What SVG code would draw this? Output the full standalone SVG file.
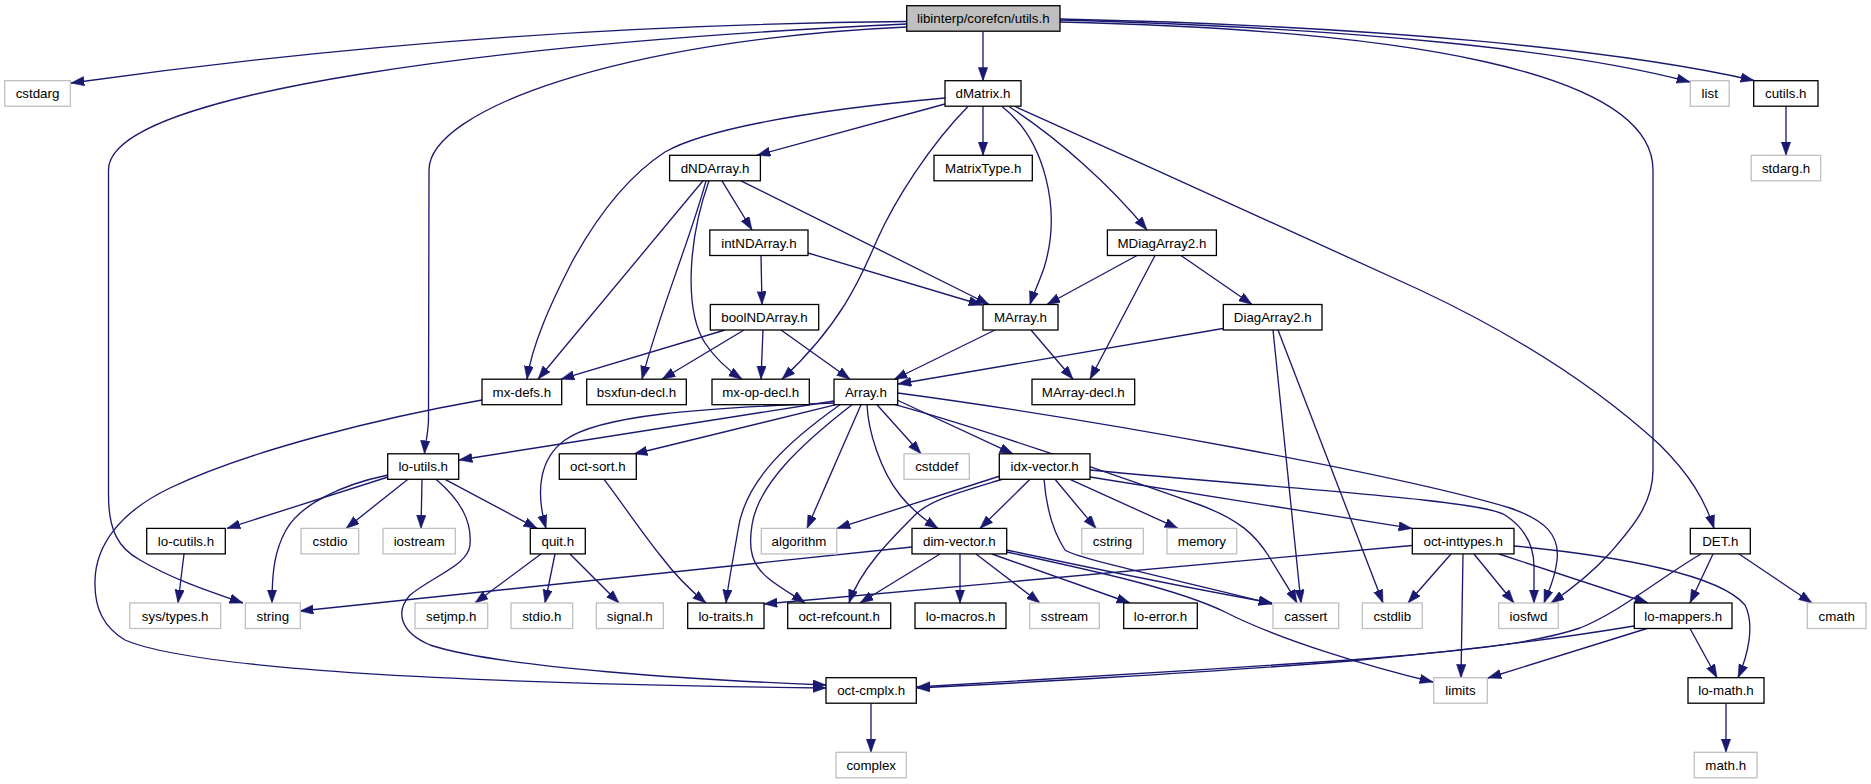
<svg xmlns="http://www.w3.org/2000/svg" width="1871" height="784" viewBox="0 0 1871 784">
<style>
.n rect{fill:#fff;stroke:#000;stroke-width:1.3}
.x rect{stroke:#bfbfbf}
.root rect{fill:#bfbfbf}
text{font-family:"Liberation Sans",Arial,Helvetica,sans-serif;font-size:13.33px;text-anchor:middle;fill:#000}
#edges path{fill:none;stroke:#191970;stroke-width:1.33;marker-end:url(#a)}
</style>
<defs>
<marker id="a" markerUnits="userSpaceOnUse" markerWidth="14" markerHeight="10" viewBox="0 0 14 10" refX="13.3" refY="4.7" orient="auto">
<path d="M0,0 L13.3,4.7 L0,9.4 z" fill="#191970" stroke="#191970" stroke-width="0.5"/>
</marker>
</defs>
<rect width="1871" height="784" fill="#fff"/>
<g id="edges">
<path d="M907,21.5 C650,24 380,40 71,83"/>
<path d="M907,24 C520,42 108.5,90 108.5,170 L108.5,495 C108.5,530 118,548 140,560 C170,578 205,590 243,603"/>
<path d="M907,27 C620,40 429,110 429,170 L428.5,420 C428,435 425,445 424.5,453.8"/>
<path d="M983,31.5 L983,80.7"/>
<path d="M1060,20 C1350,28 1570,50 1690,82"/>
<path d="M1060,19 C1380,26 1620,50 1754,80.5"/>
<path d="M1060,22 C1400,30 1653,70 1653,170 L1653,470 C1653,505 1630,530 1610,553 C1590,575 1570,590 1551,603"/>
<path d="M945,104 L757,155.3"/>
<path d="M945,98 C790,112 700,132 665,152 C625,178 595,220 572,262 C550,305 532,345 527,379.2"/>
<path d="M983,106.2 L983,155.3"/>
<path d="M968,106.5 C930,145 895,200 877,240 C860,280 840,325 782,379.2"/>
<path d="M1002,106.5 C1045,140 1062,210 1044,268 C1038,285 1033,295 1030,304.5"/>
<path d="M1009,106.5 C1060,140 1110,185 1147,230"/>
<path d="M1015,106.5 C1150,167 1300,235 1420,290 C1520,337 1600,390 1660,445 C1690,475 1705,500 1714,528.4"/>
<path d="M703,180.8 L538,379.2"/>
<path d="M706,180.8 C690,240 660,310 642,379.2"/>
<path d="M709,180.8 C688,240 684,310 705,343 C715,358 728,370 742,379.2"/>
<path d="M722,180.8 L752,230"/>
<path d="M741,180.8 L989,304.5"/>
<path d="M808,253 L982,305"/>
<path d="M761,255.5 L762,304.5"/>
<path d="M1137,255.5 L1047,304.5"/>
<path d="M1155,255.5 L1090,379.2"/>
<path d="M1181,255.5 L1252,304.5"/>
<path d="M725,330 L561,379.2"/>
<path d="M744,330 L662,379.2"/>
<path d="M763,330 L761,379.2"/>
<path d="M781,330 L850,379.2"/>
<path d="M995,330 L894,379.5"/>
<path d="M1031,330 L1073,379.2"/>
<path d="M1223,328.5 L898,384"/>
<path d="M1273,330 L1301,603"/>
<path d="M1278,330 L1383,603"/>
<path d="M482,400 C380,418 250,450 170,488 C120,512 96,545 95,580 C94,610 105,628 125,640 C200,672 500,684 826,688"/>
<path d="M388,477 L227,528.4"/>
<path d="M388,475 C340,485 300,505 286,530 C275,550 272,570 272,603"/>
<path d="M408,479.3 L346,528.4"/>
<path d="M422,479.3 L421,528.4"/>
<path d="M436,479.3 C460,500 472,520 470,545 C468,565 435,575 410,595 C395,612 400,632 430,645 C500,668 700,680 826,685"/>
<path d="M445,479.3 L537,528.4"/>
<path d="M834,401 L459,460"/>
<path d="M834,403 C700,408 600,415 565,440 C540,458 535,490 546,528.4"/>
<path d="M836,404.7 L634,454"/>
<path d="M840,404.7 C790,440 745,480 738,530 C733,560 728,585 726,603"/>
<path d="M852,404.7 C800,445 758,485 752,525 C748,550 752,565 768,578 C780,588 795,596 805,603"/>
<path d="M861,404.7 L807,528.4"/>
<path d="M867,404.7 C868,430 880,470 900,495 C912,510 925,520 938,528.4"/>
<path d="M877,404.7 L921,453.8"/>
<path d="M897,400 L1013,453.8"/>
<path d="M897.7,393 C1100,420 1400,475 1510,508 C1545,520 1560,535 1557,560 C1555,580 1548,592 1544,603"/>
<path d="M895,404.7 C980,428 1100,470 1200,505 C1240,520 1255,535 1268,555 C1280,575 1290,590 1297,603"/>
<path d="M604,479.3 C620,500 640,530 660,555 C675,575 690,590 706,603"/>
<path d="M1000,476 L837,528.4"/>
<path d="M1003,479 C960,492 930,500 915,515 C890,540 860,570 849,603"/>
<path d="M1030,479.3 L980,528.4"/>
<path d="M1044,479.3 C1046,505 1052,530 1065,550 C1080,560 1200,585 1272,604"/>
<path d="M1055,479.3 L1096,528.4"/>
<path d="M1070,479.3 L1178,528.4"/>
<path d="M1090,470 C1300,490 1480,500 1505,515 C1525,528 1535,545 1534,570 C1534,585 1534,595 1534,603"/>
<path d="M1090,477 L1412,528.4"/>
<path d="M912,547 L300,611"/>
<path d="M940,554 L860,603"/>
<path d="M960,554 L960,603"/>
<path d="M976,554 L1040,603"/>
<path d="M992,554 L1130,603"/>
<path d="M1006.7,550 C1100,570 1200,590 1272,603"/>
<path d="M1006.7,552 C1100,572 1180,590 1225,612 C1280,640 1370,667 1433,682"/>
<path d="M1412,545.5 L764,604"/>
<path d="M1451,554 L1408,603"/>
<path d="M1463,554 L1461,677.7"/>
<path d="M1474,554 L1514,603"/>
<path d="M1499,554 L1648,603"/>
<path d="M1514,546 C1620,556 1720,575 1745,605 C1755,625 1748,655 1738,677.7"/>
<path d="M1701,554 C1660,578 1620,612 1580,628 C1530,645 1450,652 1350,660 C1200,670 1000,683 917,687"/>
<path d="M1713,554 L1690,603"/>
<path d="M1739,554 L1812,603"/>
<path d="M1634,626 C1550,640 1450,652 1350,661 C1200,673 1000,684 917,688"/>
<path d="M1647,628.5 L1488,678"/>
<path d="M1690,628.5 L1717,677.7"/>
<path d="M1726,703.2 L1726,752.3"/>
<path d="M871,703.2 L871,752.3"/>
<path d="M541,554 L475,603"/>
<path d="M555,554 L545,603"/>
<path d="M570,554 L619,603"/>
<path d="M184,554 L178,603"/>
<path d="M1786,106.2 L1786,155.3"/>
</g>
<g id="n_utils" class="n root"><rect x="906.7" y="5.7" width="153.3" height="25.5"/><text x="983.3" y="23.2">libinterp/corefcn/utils.h</text></g>
<g id="n_cstdarg" class="n x"><rect x="4.7" y="80.7" width="65.7" height="25.5"/><text x="37.5" y="98.2">cstdarg</text></g>
<g id="n_dMatrix" class="n"><rect x="945" y="80.7" width="76" height="25.5"/><text x="983" y="98.2">dMatrix.h</text></g>
<g id="n_list" class="n x"><rect x="1690.3" y="80.7" width="38.9" height="25.5"/><text x="1709.7" y="98.2">list</text></g>
<g id="n_cutils" class="n"><rect x="1753.7" y="80.7" width="64.3" height="25.5"/><text x="1785.8" y="98.2">cutils.h</text></g>
<g id="n_dNDArray" class="n"><rect x="669.6" y="155.3" width="90.8" height="25.5"/><text x="715" y="172.8">dNDArray.h</text></g>
<g id="n_MatrixType" class="n"><rect x="934" y="155.3" width="98.3" height="25.5"/><text x="983.2" y="172.8">MatrixType.h</text></g>
<g id="n_stdarg" class="n x"><rect x="1751.2" y="155.3" width="69.5" height="25.5"/><text x="1786" y="172.8">stdarg.h</text></g>
<g id="n_intNDArray" class="n"><rect x="709.8" y="230" width="98.2" height="25.5"/><text x="758.9" y="247.5">intNDArray.h</text></g>
<g id="n_MDiagArray2" class="n"><rect x="1107.4" y="230" width="109" height="25.5"/><text x="1161.9" y="247.5">MDiagArray2.h</text></g>
<g id="n_boolNDArray" class="n"><rect x="710.3" y="304.5" width="108.4" height="25.5"/><text x="764.5" y="322">boolNDArray.h</text></g>
<g id="n_MArray" class="n"><rect x="983" y="304.5" width="75" height="25.5"/><text x="1020.5" y="322">MArray.h</text></g>
<g id="n_DiagArray2" class="n"><rect x="1223.3" y="304.5" width="98.7" height="25.5"/><text x="1272.7" y="322">DiagArray2.h</text></g>
<g id="n_mxdefs" class="n"><rect x="482" y="379.2" width="79.7" height="25.5"/><text x="521.8" y="396.7">mx-defs.h</text></g>
<g id="n_bsxfun" class="n"><rect x="586.7" y="379.2" width="99.6" height="25.5"/><text x="636.5" y="396.7">bsxfun-decl.h</text></g>
<g id="n_mxopdecl" class="n"><rect x="712" y="379.2" width="97.3" height="25.5"/><text x="760.7" y="396.7">mx-op-decl.h</text></g>
<g id="n_Array" class="n"><rect x="834" y="379.2" width="63.7" height="25.5"/><text x="865.9" y="396.7">Array.h</text></g>
<g id="n_MArraydecl" class="n"><rect x="1032" y="379.2" width="102.7" height="25.5"/><text x="1083.3" y="396.7">MArray-decl.h</text></g>
<g id="n_loutils" class="n"><rect x="387.7" y="453.8" width="71" height="25.5"/><text x="423.2" y="471.3">lo-utils.h</text></g>
<g id="n_octsort" class="n"><rect x="559.3" y="453.8" width="77" height="25.5"/><text x="597.8" y="471.3">oct-sort.h</text></g>
<g id="n_cstddef" class="n x"><rect x="904" y="453.8" width="65.3" height="25.5"/><text x="936.7" y="471.3">cstddef</text></g>
<g id="n_idxvector" class="n"><rect x="999.3" y="453.8" width="90.7" height="25.5"/><text x="1044.7" y="471.3">idx-vector.h</text></g>
<g id="n_locutils" class="n"><rect x="146.7" y="528.4" width="78.6" height="25.5"/><text x="186" y="545.9">lo-cutils.h</text></g>
<g id="n_cstdio" class="n x"><rect x="301" y="528.4" width="57.7" height="25.5"/><text x="329.9" y="545.9">cstdio</text></g>
<g id="n_iostream" class="n x"><rect x="383" y="528.4" width="72.3" height="25.5"/><text x="419.2" y="545.9">iostream</text></g>
<g id="n_quit" class="n"><rect x="530.3" y="528.4" width="55" height="25.5"/><text x="557.8" y="545.9">quit.h</text></g>
<g id="n_algorithm" class="n x"><rect x="761.3" y="528.4" width="75.4" height="25.5"/><text x="799" y="545.9">algorithm</text></g>
<g id="n_dimvector" class="n"><rect x="912" y="528.4" width="94.7" height="25.5"/><text x="959.3" y="545.9">dim-vector.h</text></g>
<g id="n_cstring" class="n x"><rect x="1081.7" y="528.4" width="61.6" height="25.5"/><text x="1112.5" y="545.9">cstring</text></g>
<g id="n_memory" class="n x"><rect x="1167" y="528.4" width="69.7" height="25.5"/><text x="1201.9" y="545.9">memory</text></g>
<g id="n_octinttypes" class="n"><rect x="1412.3" y="528.4" width="101.7" height="25.5"/><text x="1463.2" y="545.9">oct-inttypes.h</text></g>
<g id="n_DET" class="n"><rect x="1690.3" y="528.4" width="60" height="25.5"/><text x="1720.3" y="545.9">DET.h</text></g>
<g id="n_systypes" class="n x"><rect x="129.7" y="603" width="91" height="25.5"/><text x="175.2" y="620.5">sys/types.h</text></g>
<g id="n_string" class="n x"><rect x="245.3" y="603" width="55" height="25.5"/><text x="272.8" y="620.5">string</text></g>
<g id="n_setjmp" class="n x"><rect x="415" y="603" width="72.7" height="25.5"/><text x="451.3" y="620.5">setjmp.h</text></g>
<g id="n_stdio" class="n x"><rect x="511" y="603" width="61.7" height="25.5"/><text x="541.8" y="620.5">stdio.h</text></g>
<g id="n_signal" class="n x"><rect x="596.3" y="603" width="67" height="25.5"/><text x="629.8" y="620.5">signal.h</text></g>
<g id="n_lotraits" class="n"><rect x="687.7" y="603" width="76.3" height="25.5"/><text x="725.8" y="620.5">lo-traits.h</text></g>
<g id="n_octrefcount" class="n"><rect x="787.7" y="603" width="103" height="25.5"/><text x="839.2" y="620.5">oct-refcount.h</text></g>
<g id="n_lomacros" class="n"><rect x="915" y="603" width="91" height="25.5"/><text x="960.5" y="620.5">lo-macros.h</text></g>
<g id="n_sstream" class="n x"><rect x="1029.7" y="603" width="69.6" height="25.5"/><text x="1064.5" y="620.5">sstream</text></g>
<g id="n_loerror" class="n"><rect x="1123.7" y="603" width="73.6" height="25.5"/><text x="1160.5" y="620.5">lo-error.h</text></g>
<g id="n_cassert" class="n x"><rect x="1273" y="603" width="65.7" height="25.5"/><text x="1305.8" y="620.5">cassert</text></g>
<g id="n_cstdlib" class="n x"><rect x="1362.3" y="603" width="60" height="25.5"/><text x="1392.3" y="620.5">cstdlib</text></g>
<g id="n_iosfwd" class="n x"><rect x="1498.7" y="603" width="59.6" height="25.5"/><text x="1528.5" y="620.5">iosfwd</text></g>
<g id="n_lomappers" class="n"><rect x="1634.3" y="603" width="97.7" height="25.5"/><text x="1683.2" y="620.5">lo-mappers.h</text></g>
<g id="n_cmath" class="n x"><rect x="1807.3" y="603" width="58.7" height="25.5"/><text x="1836.7" y="620.5">cmath</text></g>
<g id="n_octcmplx" class="n"><rect x="826" y="677.7" width="90.3" height="25.5"/><text x="871.2" y="695.2">oct-cmplx.h</text></g>
<g id="n_limits" class="n x"><rect x="1433.7" y="677.7" width="53.6" height="25.5"/><text x="1460.5" y="695.2">limits</text></g>
<g id="n_lomath" class="n"><rect x="1688" y="677.7" width="76" height="25.5"/><text x="1726" y="695.2">lo-math.h</text></g>
<g id="n_complex" class="n x"><rect x="836" y="752.3" width="70.3" height="25.5"/><text x="871.2" y="769.8">complex</text></g>
<g id="n_mathh" class="n x"><rect x="1694.3" y="752.3" width="62.7" height="25.5"/><text x="1725.7" y="769.8">math.h</text></g>
</svg>
